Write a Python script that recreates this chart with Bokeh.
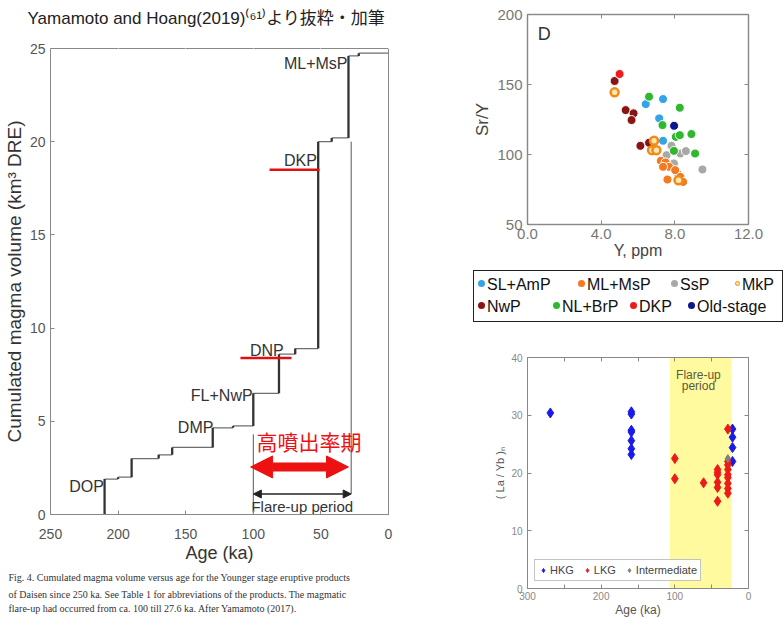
from bokeh.plotting import figure
from bokeh.models import (Range1d, FixedTicker, LinearAxis, Title, Legend, LegendItem,
                          Arrow, NormalHead, BoxAnnotation, PrintfTickFormatter, Div)
from bokeh.layouts import row, column
from bokeh.embed import file_html
from bokeh.resources import INLINE
from bokeh.core.properties import value

SANS = "Liberation Sans"
CJK = "Noto Sans CJK JP"
SERIF = "Liberation Serif"

# ---------------- Left panel: cumulated magma volume vs age ----------------
erupt_age = [210, 200, 190, 170, 160, 130, 115, 100, 81, 69, 52, 42, 29.6, 22]
cum_volume = [1.9, 2.0, 3.0, 3.2, 3.6, 4.65, 4.75, 6.5, 8.6, 8.9, 20.0, 20.2, 24.6, 24.75]
unit_names = ["DOP", "DMP", "FL+NwP", "DNP", "DKP", "ML+MsP"]
unit_age = [210.5, 129.5, 100.5, 77.5, 53.0, 30.3]
unit_volume = [1.5, 4.65, 6.4, 8.8, 19.0, 24.2]
highlight_from = [88, 109.5]
highlight_to = [51, 71.7]
highlight_volume = [18.5, 8.4]
flare_start, flare_end = 100, 27.6
age_ticks = [0, 50, 100, 150, 200, 250]
volume_ticks = [0, 5, 10, 15, 20, 25]
title_text = "Yamamoto and Hoang(2019)⁽⁶¹⁾より抜粋・加筆"
caption_lines = [
    "Fig. 4. Cumulated magma volume versus age for the Younger stage eruptive products",
    "of Daisen since 250 ka. See Table 1 for abbreviations of the products. The magmatic",
    "flare-up had occurred from ca. 100 till 27.6 ka. After Yamamoto (2017).",
]

# ---------------- Top-right panel D: Sr/Y vs Y ----------------
legend_row1 = ["SL+AmP", "ML+MsP", "SsP", "MkP"]
legend_row2 = ["NwP", "NL+BrP", "DKP", "Old-stage"]
slamp_y = [6.42, 7.36, 7.15, 7.36]
slamp_sry = [136.0, 139.6, 125.8, 109.8]
mlmsp_y = [7.24, 7.5, 7.69, 8.02, 7.6, 8.3, 8.45, 7.36]
mlmsp_sry = [95.5, 94.3, 91.2, 88.8, 82.1, 84.0, 80.4, 91.2]
ssp_y = [7.82, 7.55, 8.3, 8.6, 9.5, 7.95, 8.18]
ssp_sry = [106.2, 99.5, 100.7, 102.4, 89.3, 93.6, 86.0]
mkp_y = [4.73, 6.87, 6.76, 7.0, 8.2]
mkp_sry = [144.4, 109.8, 103.1, 103.1, 81.6]
nwp_y = [4.73, 5.33, 5.76, 5.65, 6.13, 6.6]
nwp_sry = [152.5, 131.7, 129.4, 124.6, 106.2, 108.4]
nlbrp_y = [6.6, 8.27, 7.33, 8.05, 8.27, 8.9, 9.1, 7.95]
nlbrp_sry = [141.3, 133.4, 121.0, 112.6, 113.8, 114.6, 100.7, 102.6]
dkp_y = [5.0]
dkp_sry = [157.5]
old_y = [7.96]
old_sry = [120.5]
ppm_ticks = [0, 4, 8, 12]
sry_ticks = [50, 100, 150, 200]

# ---------------- Bottom-right panel: (La/Yb)N vs age ----------------
hkg_age = [269, 159, 159, 159, 159, 159, 159, 159, 21.7, 21.7, 21.7, 21.7]
hkg_ratio = [30.4, 30.6, 30.2, 27.4, 27.1, 25.6, 24.2, 23.2, 27.6, 26.2, 24.4, 22.0]
lkg_age = [100, 100, 61, 42, 42, 42, 42, 42, 42, 28, 28, 28, 28, 28, 28, 28, 28, 28]
lkg_ratio = [22.5, 19.0, 18.3, 20.6, 20.1, 19.7, 18.4, 17.5, 15.1,
             27.6, 22.0, 21.4, 20.6, 19.7, 19.2, 18.2, 17.3, 16.5]
int_age = [28]
int_ratio = [22.5]
band_old, band_young = 107, 23
age3_major = [0, 100, 200, 300]
age3_minor = [50, 150, 250]
ratio_ticks = [0, 10, 20, 30, 40]


def style_axis(ax, tick_size, tick_color, label_size, label_color, standoff=4):
    ax.axis_line_color = "#888888"
    ax.major_tick_in = 4
    ax.major_tick_out = 0
    ax.major_tick_line_color = "#888888"
    ax.minor_tick_line_color = None
    ax.major_label_text_font = SANS
    ax.major_label_text_font_size = tick_size
    ax.major_label_text_color = tick_color
    ax.major_label_standoff = standoff
    ax.axis_label_text_font = SANS
    ax.axis_label_text_font_size = label_size
    ax.axis_label_text_color = label_color
    ax.axis_label_text_font_style = "normal"
    ax.axis_label_standoff = 2


def mirror_axis(p, side, ticker, minor=False):
    ax = LinearAxis(ticker=ticker)
    ax.major_label_text_font_size = "1px"
    ax.major_label_text_color = None
    ax.major_label_standoff = 0
    ax.major_tick_in = 4
    ax.major_tick_out = 0
    ax.minor_tick_in = 4
    ax.minor_tick_out = 0
    ax.minor_tick_line_color = "#888888" if minor else None
    ax.axis_line_color = "#888888"
    ax.major_tick_line_color = "#888888"
    p.add_layout(ax, side)


# ======================= Left figure =======================
p1 = figure(width=470, height=619, x_range=Range1d(250, 0), y_range=Range1d(0, 25),
            output_backend="svg", toolbar_location=None,
            min_border_left=50, min_border_right=82, min_border_top=48, min_border_bottom=105)
p1.grid.visible = False
p1.outline_line_color = "#888888"
p1.xaxis.ticker = FixedTicker(ticks=age_ticks)
p1.yaxis.ticker = FixedTicker(ticks=volume_ticks)
p1.xaxis.axis_label = "Age (ka)"
p1.yaxis.axis_label = "Cumulated magma volume (km³ DRE)"
style_axis(p1.xaxis[0], "14px", "#555555", "18px", "#333333", standoff=14)
style_axis(p1.yaxis[0], "14px", "#555555", "19px", "#333333", standoff=5)
p1.xaxis.axis_label_standoff = 1

# spacer between the frame and the heading: outward ticks drawn in white
spacer = LinearAxis(ticker=FixedTicker(ticks=age_ticks))
spacer.major_label_text_font_size = "1px"
spacer.major_label_text_color = None
spacer.major_label_standoff = 0
spacer.major_tick_in = 0
spacer.major_tick_out = 18
spacer.major_tick_line_color = "white"
spacer.minor_tick_line_color = None
spacer.axis_line_color = None
p1.add_layout(spacer, "above")

p1.title.text = title_text
p1.title.align = "left"
p1.title.offset = -23
p1.title.text_font = "Liberation Sans, Noto Sans CJK JP"
p1.title.text_font_size = "17px"
p1.title.text_font_style = "normal"
p1.title.text_color = "#222222"
p1.title.standoff = 6

for i, line in enumerate(caption_lines):
    p1.add_layout(Title(text=line, align="left", offset=-42, text_font=SERIF,
                        text_font_size="10px", text_font_style="normal",
                        text_color="#333333", standoff=8 if i == 0 else 1), "below")

# step curve from the eruption list
h_x1 = erupt_age[1:] + [0]
v_y0 = [0] + cum_volume[:-1]
p1.segment(x0=erupt_age, y0=cum_volume, x1=h_x1, y1=cum_volume, line_color="#6e6e6e", line_width=1.3)
p1.segment(x0=erupt_age, y0=v_y0, x1=erupt_age, y1=cum_volume, line_color="#333333", line_width=2.3)

# flare-up limits
p1.segment(x0=[flare_start, flare_end], y0=[0.05, 1.1], x1=[flare_start, flare_end],
           y1=[4.3, 20.0], line_color="#555555", line_width=1)

p1.add_layout(Arrow(start=NormalHead(size=8, fill_color="#222222", line_color="#222222"),
                    end=NormalHead(size=8, fill_color="#222222", line_color="#222222"),
                    x_start=flare_start, x_end=flare_end, y_start=1.1, y_end=1.1,
                    line_color="#222222", line_width=1.5))
p1.text(x=[(flare_start + flare_end) / 2], y=[0.43], text=["Flare-up period"],
        text_font=value(SANS), text_font_size="15px", text_color="#333333",
        text_align="center", text_baseline="middle")

RED = "#ee1111"
p1.add_layout(Arrow(start=NormalHead(size=22, fill_color=RED, line_color=RED),
                    end=NormalHead(size=22, fill_color=RED, line_color=RED),
                    x_start=102, x_end=29.6, y_start=2.55, y_end=2.55,
                    line_color=RED, line_width=9))
p1.text(x=[97.6], y=[3.95], text=["高噴出率期"], text_font=value(CJK),
        text_font_size="21px", text_color=RED, text_align="left", text_baseline="middle")

p1.segment(x0=highlight_from, y0=highlight_volume, x1=highlight_to, y1=highlight_volume,
           line_color="#e01010", line_width=2.5)

p1.text(x=unit_age, y=unit_volume, text=unit_names, text_font=value(SANS),
        text_font_size="16px", text_color="#333333", text_align="right",
        text_baseline="middle")

# ======================= Top-right figure (D) =======================
p2 = figure(width=314, height=266, x_range=Range1d(0, 12), y_range=Range1d(50, 200),
            output_backend="svg", toolbar_location=None,
            min_border_left=52, min_border_right=36, min_border_top=14, min_border_bottom=42)
p2.grid.visible = False
p2.outline_line_color = "#999999"
p2.outline_line_width = 1.5
p2.xaxis.ticker = FixedTicker(ticks=ppm_ticks)
p2.xaxis.formatter = PrintfTickFormatter(format="%.1f")
p2.yaxis.ticker = FixedTicker(ticks=sry_ticks)
p2.xaxis.axis_label = "Y, ppm"
p2.yaxis.axis_label = "Sr/Y"
style_axis(p2.xaxis[0], "15px", "#777777", "16px", "#444444", standoff=4)
style_axis(p2.yaxis[0], "15px", "#777777", "17px", "#444444", standoff=5)
p2.xaxis.axis_label_standoff = 0
mirror_axis(p2, "above", FixedTicker(ticks=ppm_ticks))
mirror_axis(p2, "right", FixedTicker(ticks=sry_ticks))

p2.text(x=[0.55], y=[186], text=["D"], text_font=value(SANS), text_font_size="18px",
        text_color="#333333", text_align="left", text_baseline="middle")

series = [
    ("SsP", ssp_y, ssp_sry, "#a8a8a8", "white", 1),
    ("ML+MsP", mlmsp_y, mlmsp_sry, "#f47a20", "white", 1),
    ("SL+AmP", slamp_y, slamp_sry, "#34a4ea", "white", 1),
    ("NL+BrP", nlbrp_y, nlbrp_sry, "#2eb82e", "white", 1),
    ("NwP", nwp_y, nwp_sry, "#8a1414", "white", 1),
    ("MkP", mkp_y, mkp_sry, "#ffe7a8", "#f08a1c", 2.5),
    ("DKP", dkp_y, dkp_sry, "#ec1c1c", "white", 1),
    ("Old-stage", old_y, old_sry, "#0b1690", "white", 1),
]
style_of = {}
for name, xs, ys, fc, lc, lw in series:
    p2.scatter(x=xs, y=ys, size=9 if lw == 1 else 8, fill_color=fc,
               line_color=lc, line_width=lw)
    style_of[name] = (fc, lc, lw)


# legend box of panel D (placed below its axis title)
def legend_entry(name, width):
    fc, lc, lw = style_of[name]
    if lw == 1:
        dot = ('<span style="display:inline-block;width:7px;height:7px;border-radius:50%%;'
               'background:%s;margin-right:2px;vertical-align:middle;position:relative;top:-2px"></span>' % fc)
    else:
        dot = ('<span style="display:inline-block;width:5px;height:5px;border-radius:50%%;'
               'background:%s;border:1.5px solid %s;margin-right:2px;vertical-align:middle;'
               'position:relative;top:-2px"></span>' % (fc, lc))
    return '<span style="display:inline-block;width:%dpx">%s%s</span>' % (width, dot, name)


row1_widths = [100, 93, 64, 44]
row2_widths = [75, 77, 58, 90]
legend_html = (
    '<div style="width:310px;height:52px;box-sizing:border-box;border:1.5px solid #222;'
    'margin:4px 0 0 3px;padding:3px 0 0 4px;font-family:\'Liberation Sans\',Arial,sans-serif;'
    'font-size:16px;color:#111;line-height:22px;white-space:nowrap;background:#fff;overflow:hidden">'
    '<div>' + "".join(legend_entry(n, w) for n, w in zip(legend_row1, row1_widths)) + '</div>'
    '<div>' + "".join(legend_entry(n, w) for n, w in zip(legend_row2, row2_widths)) + '</div>'
    '</div>'
)
legend_div = Div(text=legend_html, width=314, height=64, margin=0)

# ======================= Bottom-right figure =======================
p3 = figure(width=314, height=289, x_range=Range1d(300, 0), y_range=Range1d(0, 40),
            output_backend="svg", toolbar_location=None,
            min_border_left=52, min_border_right=27, min_border_top=27, min_border_bottom=29)
p3.grid.visible = False
p3.outline_line_color = "#999999"
p3.xaxis.ticker = FixedTicker(ticks=age3_major, minor_ticks=age3_minor)
p3.yaxis.ticker = FixedTicker(ticks=ratio_ticks)
p3.xaxis.axis_label = "Age (ka)"
p3.yaxis.axis_label = "( La / Yb )ₙ"
style_axis(p3.xaxis[0], "10px", "#888888", "12px", "#555555", standoff=3)
style_axis(p3.yaxis[0], "10px", "#888888", "11px", "#555555", standoff=5)
p3.xaxis.minor_tick_line_color = "#888888"
p3.xaxis.minor_tick_in = 4
p3.xaxis.minor_tick_out = 0
p3.xaxis.axis_label_standoff = 0
mirror_axis(p3, "above", FixedTicker(ticks=age3_major, minor_ticks=age3_minor), minor=True)
mirror_axis(p3, "right", FixedTicker(ticks=ratio_ticks))

p3.add_layout(BoxAnnotation(left=band_old, right=band_young, fill_color="#fffa9e",
                            fill_alpha=1, line_color=None, level="underlay"))
p3.text(x=[(band_old + band_young) / 2 + 3] * 2, y=[36.9, 35.0], text=["Flare-up", "period"],
        text_font=value(SANS), text_font_size="12px", text_color="#5a5a40",
        text_align="center", text_baseline="middle")

r_h = p3.scatter(x=hkg_age, y=hkg_ratio, marker="diamond", size=10, color="#1a1aee")
r_l = p3.scatter(x=lkg_age, y=lkg_ratio, marker="diamond", size=10, color="#ee1a1a")
r_i = p3.scatter(x=int_age, y=int_ratio, marker="diamond", size=8, color="#808080")

legend3 = Legend(items=[LegendItem(label="HKG", renderers=[r_h]),
                        LegendItem(label="LKG", renderers=[r_l]),
                        LegendItem(label="Intermediate", renderers=[r_i])],
                 orientation="horizontal", location="bottom_left",
                 label_text_font=SANS, label_text_font_size="11px", label_text_color="#444444",
                 glyph_width=10, glyph_height=14, label_standoff=2, spacing=8, padding=3,
                 margin=7, border_line_color="#888888", border_line_width=1.5)
p3.add_layout(legend3)

layout = row(p1, column(p2, legend_div, p3))
open("out.html", "w").write(file_html(layout, INLINE))
